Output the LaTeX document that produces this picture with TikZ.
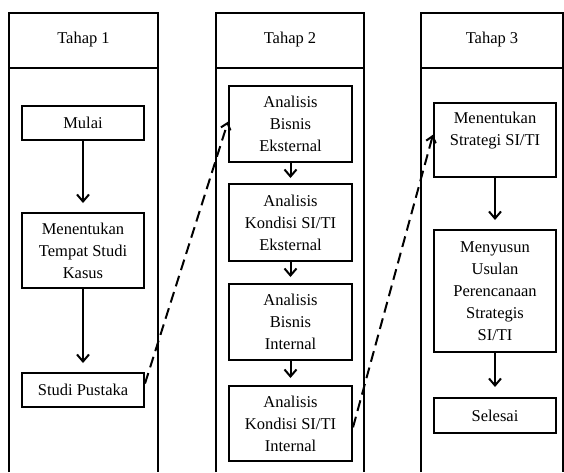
\documentclass[tikz,border=0pt]{standalone}
\usepackage{fontspec}
\setmainfont{Liberation Serif}
\usetikzlibrary{arrows.meta,calc}
\begin{document}
\begin{tikzpicture}[x=1pt,y=-1pt,
  frame/.style={line width=2pt},
  box/.style={draw,line width=2pt,align=center,inner sep=0pt,font=\fontsize{16.5}{22}\selectfont},
  boxtext/.style={align=center,inner sep=0pt,font=\fontsize{16.5}{22}\selectfont},
  head/.style={font=\fontsize{16.5}{22}\selectfont},
  flow/.style={line width=2pt,-{Straight Barb[length=7pt,width=12pt,line width=2pt]}},
  jump/.style={line width=2pt,dash pattern=on 11pt off 6pt,-{Straight Barb[length=6pt,width=10pt,line width=2pt]}}]
\useasboundingbox (0,0) rectangle (564,472);
% frames
\draw[frame] (9,472) -- (9,13) -- (158,13) -- (158,472);
\draw[frame] (9,68) -- (158,68);
\draw[frame] (216,472) -- (216,13) -- (364,13) -- (364,472);
\draw[frame] (216,68) -- (364,68);
\draw[frame] (421,472) -- (421,13) -- (563,13) -- (563,472);
\draw[frame] (421,68) -- (563,68);
\node[head] (t1) at (83.5,40) {Tahap 1};
\node[head] (t2) at (290,40) {Tahap 2};
\node[head] (t3) at (492,40) {Tahap 3};
% column 1
\node[box,minimum width=122pt,minimum height=34pt] (mulai) at (83,123) {Mulai};
\node[box,minimum width=122pt,minimum height=75pt] (tempat) at (83,250.5) {Menentukan\\Tempat Studi\\Kasus};
\node[box,minimum width=122pt,minimum height=34pt] (studi) at (83,390) {Studi Pustaka};
% column 2
\node[box,minimum width=123pt,minimum height=76pt] (abe) at (290.5,124) {Analisis\\Bisnis\\Eksternal};
\node[box,minimum width=123pt,minimum height=77pt] (ake) at (290.5,222.5) {Analisis\\Kondisi SI/TI\\Eksternal};
\node[box,minimum width=123pt,minimum height=76pt] (abi) at (290.5,322) {Analisis\\Bisnis\\Internal};
\node[box,minimum width=123pt,minimum height=75pt] (aki) at (290.5,423.5) {Analisis\\Kondisi SI/TI\\Internal};
% column 3
\node[box,minimum width=122pt,minimum height=74pt] (strat) at (495,140) {};
\node[boxtext] (strattxt) at (495,131) {Menentukan\\Strategi SI/TI};
\node[box,minimum width=122pt,minimum height=122pt] (usul) at (495,291) {Menyusun\\Usulan\\Perencanaan\\Strategis\\SI/TI};
\node[box,minimum width=122pt,minimum height=35pt] (selesai) at (495,415.5) {Selesai};
% flow arrows
\draw[flow,shorten >=9pt] (mulai) -- (tempat);
\draw[flow,shorten >=9pt] (tempat) -- (studi);
\draw[flow,shorten >=5pt] (abe) -- (ake);
\draw[flow,shorten >=6pt] (ake) -- (abi);
\draw[flow,shorten >=7pt] (abi) -- (aki);
\draw[flow,shorten >=9pt] (strat) -- (usul);
\draw[flow,shorten >=10pt] (usul) -- (selesai);
% dashed jumps
\draw[jump] ($(studi.north east)!0.32!(studi.south east)$) -- ($(abe.north west)!0.47!(abe.south west)$);
\draw[jump] ($(aki.north east)!0.55!(aki.south east)$) -- ($(strat.north west)!0.43!(strat.south west)$);
\end{tikzpicture}
\end{document}
